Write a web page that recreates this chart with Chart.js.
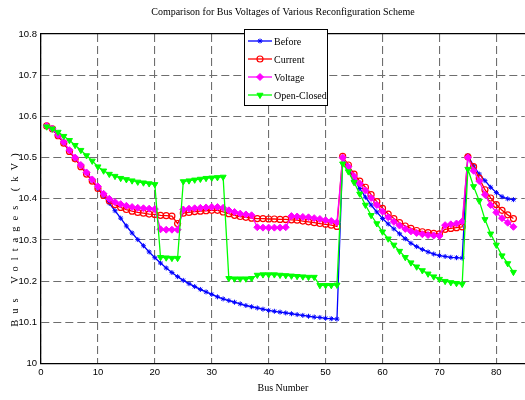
<!DOCTYPE html>
<html>
<head>
<meta charset="utf-8">
<script src="https://cdn.jsdelivr.net/npm/chart.js@4.4.1/dist/chart.umd.min.js"></script>
<style>
  html, body { margin: 0; padding: 0; background: #fff; overflow: hidden; }
  #wrap { width: 525px; height: 400px; overflow: hidden; }
</style>
</head>
<body>
<div id="wrap"><canvas id="chart" width="530" height="400"></canvas></div>
<script>
// bus numbers along the x axis
const busNumber = [
  1, 2, 3, 4, 5, 6, 7, 8, 9, 10, 11, 12, 13, 14, 15, 16, 17, 18, 19, 20,
  21, 22, 23, 24, 25, 26, 27, 28, 29, 30, 31, 32, 33, 34, 35, 36, 37, 38, 39, 40,
  41, 42, 43, 44, 45, 46, 47, 48, 49, 50, 51, 52, 53, 54, 55, 56, 57, 58, 59, 60,
  61, 62, 63, 64, 65, 66, 67, 68, 69, 70, 71, 72, 73, 74, 75, 76, 77, 78, 79, 80,
  81, 82, 83
];

// bus voltages (kV)
const before = [
  10.575, 10.568, 10.553, 10.535, 10.515, 10.497, 10.480, 10.462, 10.444, 10.425,
  10.407, 10.389, 10.371, 10.353, 10.334, 10.317, 10.301, 10.286, 10.271, 10.257,
  10.244, 10.232, 10.221, 10.211, 10.202, 10.194, 10.187, 10.180, 10.174, 10.168,
  10.162, 10.157, 10.153, 10.149, 10.145, 10.141, 10.138, 10.135, 10.132, 10.129,
  10.127, 10.125, 10.123, 10.121, 10.119, 10.117, 10.115, 10.113, 10.112, 10.110,
  10.109, 10.108,
  10.500, 10.472, 10.448, 10.425, 10.404, 10.385, 10.368, 10.352,
  10.339, 10.327, 10.315, 10.303, 10.292, 10.284, 10.277, 10.271, 10.266, 10.262,
  10.260, 10.258, 10.257, 10.256,
  10.505, 10.480, 10.460, 10.444, 10.428, 10.415, 10.405, 10.400, 10.398
];
const current = [
  10.577, 10.570, 10.553, 10.535, 10.515, 10.497, 10.478, 10.460, 10.443, 10.425,
  10.408, 10.395, 10.386, 10.379, 10.374, 10.370, 10.367, 10.365, 10.363, 10.362,
  10.360, 10.359, 10.358, 10.340,
  10.365, 10.367, 10.369, 10.370, 10.371, 10.372, 10.372, 10.368,
  10.364, 10.360, 10.357, 10.355, 10.353, 10.352, 10.352, 10.351, 10.351, 10.350,
  10.350, 10.349, 10.348, 10.346, 10.344, 10.342, 10.340, 10.338, 10.336, 10.333,
  10.503, 10.482, 10.460, 10.443, 10.428, 10.410, 10.393, 10.377, 10.363, 10.352,
  10.342, 10.334, 10.328, 10.323, 10.320, 10.318, 10.316, 10.315, 10.326, 10.328,
  10.330, 10.332,
  10.502, 10.478, 10.450, 10.422, 10.402, 10.386, 10.372, 10.361, 10.352
];
const voltage = [
  10.577, 10.570, 10.555, 10.538, 10.518, 10.500, 10.482, 10.464, 10.447, 10.430,
  10.412, 10.400, 10.392, 10.387, 10.383, 10.380, 10.378, 10.377, 10.376, 10.375,
  10.326, 10.325, 10.325, 10.325,
  10.374, 10.376, 10.377, 10.378, 10.379, 10.380, 10.380, 10.378,
  10.372, 10.368, 10.364, 10.362, 10.360,
  10.331, 10.330, 10.330, 10.330, 10.330, 10.331,
  10.358, 10.357, 10.356, 10.355, 10.353, 10.351, 10.348, 10.346, 10.343,
  10.500, 10.478, 10.455, 10.437, 10.420, 10.402, 10.385, 10.369, 10.355, 10.344,
  10.335, 10.327, 10.321, 10.317, 10.314, 10.312, 10.311, 10.310, 10.336, 10.338,
  10.340, 10.345,
  10.500, 10.468, 10.443, 10.410, 10.385, 10.367, 10.353, 10.342, 10.332
];
const openClosed = [
  10.575, 10.570, 10.562, 10.552, 10.542, 10.530, 10.518, 10.505, 10.492, 10.478,
  10.468, 10.460, 10.455, 10.450, 10.447, 10.444, 10.441, 10.439, 10.437, 10.435,
  10.258, 10.257, 10.256, 10.256,
  10.442, 10.444, 10.446, 10.448, 10.450, 10.451, 10.452, 10.453,
  10.207, 10.206, 10.206, 10.206, 10.207,
  10.215, 10.216, 10.216, 10.216, 10.215, 10.214, 10.213, 10.212, 10.211, 10.210, 10.210,
  10.190, 10.190, 10.190, 10.191,
  10.485, 10.466, 10.440, 10.412, 10.385, 10.360, 10.340, 10.320, 10.303, 10.288,
  10.273, 10.258, 10.245, 10.235, 10.226, 10.218, 10.211, 10.205, 10.200, 10.197,
  10.195, 10.193,
  10.472, 10.430, 10.395, 10.350, 10.315, 10.288, 10.262, 10.243, 10.222
];

const yTicks = [10, 10.1, 10.2, 10.3, 10.4, 10.5, 10.6, 10.7, 10.8];
const seriesNames = ['Before', 'Current', 'Voltage', 'Open-Closed'];

const SERIF = '"Liberation Serif", "Times New Roman", serif';
const SANS = '"Liberation Sans Narrow", "Liberation Sans", Arial, sans-serif';
const GRID = '#6e6e6e';

function pts(values) {
  return busNumber.map((b, i) => ({ x: b, y: values[i] }));
}

// legend box drawn inside the plot, MATLAB style
const boxLegend = {
  id: 'boxLegend',
  afterDraw(chart) {
    const ctx = chart.ctx;
    const x0 = 244, y0 = 29, w = 83, h = 76;
    ctx.save();
    ctx.fillStyle = '#fff';
    ctx.fillRect(x0, y0, w, h);
    ctx.strokeStyle = '#000';
    ctx.lineWidth = 1;
    ctx.setLineDash([]);
    ctx.strokeRect(x0 + 0.5, y0 + 0.5, w, h);
    chart.data.datasets.forEach((ds, i) => {
      const y = y0 + 12 + i * 18;
      ctx.strokeStyle = ds.borderColor;
      ctx.lineWidth = ds.borderWidth;
      ctx.beginPath();
      ctx.moveTo(x0 + 4, y);
      ctx.lineTo(x0 + 28, y);
      ctx.stroke();
      ctx.fillStyle = ds.pointBackgroundColor;
      ctx.strokeStyle = ds.borderColor;
      ctx.lineWidth = ds.pointBorderWidth;
      Chart.helpers.drawPoint(ctx, {
        pointStyle: ds.pointStyle,
        rotation: ds.pointRotation || 0,
        radius: ds.pointRadius,
        borderWidth: ds.pointBorderWidth
      }, x0 + 16, y);
      ctx.fillStyle = '#000';
      ctx.font = '10px ' + SERIF;
      ctx.textBaseline = 'middle';
      ctx.textAlign = 'left';
      ctx.fillText(ds.label, x0 + 30, y + 1);
    });
    ctx.restore();
  }
};

// spaced-out rotated y label
const yLabel = {
  id: 'yLabel',
  afterDraw(chart) {
    const ctx = chart.ctx;
    ctx.save();
    ctx.translate(15, 237);
    ctx.rotate(-Math.PI / 2);
    ctx.font = '10.5px ' + SERIF;
    ctx.letterSpacing = '6px';
    ctx.fillStyle = '#000';
    ctx.textAlign = 'center';
    ctx.textBaseline = 'middle';
    ctx.fillText('Bus Voltages (kV)', 0, 0);
    ctx.restore();
  }
};

new Chart(document.getElementById('chart'), {
  type: 'line',
  data: {
    datasets: [
      {
        label: seriesNames[0], data: pts(before), order: 4,
        borderColor: '#0000ff', borderWidth: 1.3,
        pointStyle: 'star', pointRadius: 2.5, pointBorderWidth: 1,
        pointBackgroundColor: '#0000ff', pointBorderColor: '#0000ff'
      },
      {
        label: seriesNames[1], data: pts(current), order: 3,
        borderColor: '#ff0000', borderWidth: 1.3,
        pointStyle: 'circle', pointRadius: 3, pointBorderWidth: 1.2,
        pointBackgroundColor: 'rgba(255,255,255,0)', pointBorderColor: '#ff0000'
      },
      {
        label: seriesNames[2], data: pts(voltage), order: 2,
        borderColor: '#ff00ff', borderWidth: 1.3,
        pointStyle: 'rectRot', pointRadius: 3.5, pointBorderWidth: 1,
        pointBackgroundColor: '#ff00ff', pointBorderColor: '#ff00ff'
      },
      {
        label: seriesNames[3], data: pts(openClosed), order: 1,
        borderColor: '#00ff00', borderWidth: 1.3,
        pointStyle: 'triangle', pointRotation: 180, pointRadius: 3.5, pointBorderWidth: 1,
        pointBackgroundColor: '#00ff00', pointBorderColor: '#00ff00'
      }
    ]
  },
  options: {
    responsive: false,
    animation: false,
    devicePixelRatio: 1,
    layout: { padding: { left: 0, right: 3, top: 6, bottom: 6 } },
    elements: { line: { tension: 0 } },
    plugins: {
      legend: { display: false },
      tooltip: { enabled: false }
    },
    scales: {
      x: {
        type: 'linear', position: 'bottom', min: 0, max: 85,
        ticks: {
          stepSize: 10, includeBounds: false, color: '#000', padding: 3,
          font: { family: SANS, size: 9.5 }
        },
        grid: { color: GRID, lineWidth: 1.1, drawTicks: false },
        border: { color: '#000', width: 1.3, dash: [8, 4] },
        title: {
          display: true, text: 'Bus Number', color: '#000',
          font: { family: SERIF, size: 10 }, padding: { top: 1, bottom: 0 }
        }
      },
      x2: {
        type: 'linear', position: 'top', min: 0, max: 85,
        ticks: { display: false },
        grid: { display: false },
        border: { display: true, color: '#000', width: 1.3 },
        title: {
          display: true,
          text: 'Comparison for Bus Voltages of Various Reconfiguration Scheme',
          color: '#000', font: { family: SERIF, size: 10 },
          padding: { top: 0, bottom: 8 }
        }
      },
      y: {
        min: 10, max: 10.8,
        afterFit(scale) { scale.width = 41; },
        afterBuildTicks(scale) { scale.ticks = yTicks.map(v => ({ value: v })); },
        ticks: {
          color: '#000', padding: 4,
          font: { family: SANS, size: 9.5 },
          callback: v => String(Math.round(v * 10) / 10)
        },
        grid: { color: GRID, lineWidth: 1.1, drawTicks: false },
        border: { color: '#000', width: 1.3, dash: [8, 4] }
      }
    }
  },
  plugins: [boxLegend, yLabel]
});
</script>
</body>
</html>
